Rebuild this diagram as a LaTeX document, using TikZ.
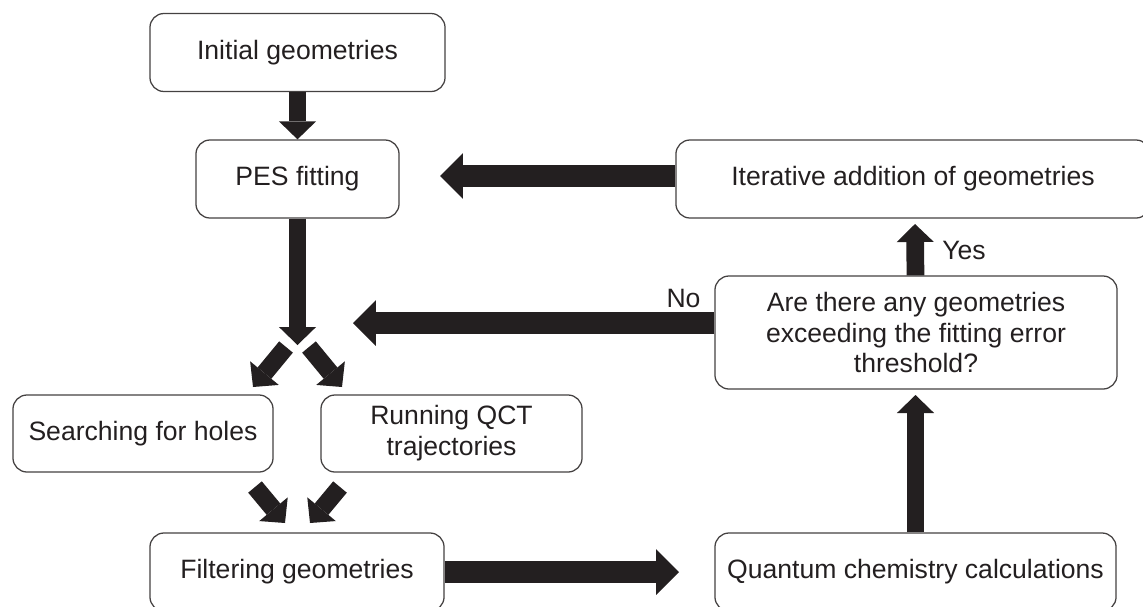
\documentclass[tikz,border=0pt]{standalone}
\usepackage{fontspec}
\setmainfont{Liberation Sans}
\usetikzlibrary{arrows.meta}
\definecolor{ink}{HTML}{231F20}
\begin{document}
\begin{tikzpicture}[x=0.025cm,y=-0.025cm,
  box/.style={draw=ink!85,line width=0.9pt,rounded corners=10pt,align=center,
    inner sep=0pt,minimum height=1.95cm,text=ink,font=\fontsize{18.9}{22}\selectfont},
  thinarrow/.style={draw=ink,line width=12.6pt,
    -{Triangle[length=12.8pt,width=26.4pt,line width=0pt]}},
  bigarrow/.style={draw=ink,line width=15.6pt,
    -{Triangle[length=16.3pt,width=32.6pt,line width=0pt]}},
  lbl/.style={text=ink,font=\fontsize{18.9}{22}\selectfont}]
\useasboundingbox (0,0) rectangle (1143,606);
\node [box,minimum width=7.375cm] (init) at (297.5,52.5) {Initial geometries};
\node [box,minimum width=5.075cm] (pes) at (297.5,179) {PES fitting};
\node [box,minimum width=11.85cm] (iter) at (913,179) {Iterative addition of geometries};
\node [box,minimum width=10.05cm,minimum height=2.825cm] (are) at (916,332.5)
  {Are there any geometries\\exceeding the fitting error\\threshold?};
\node [box,minimum width=6.5cm,minimum height=1.925cm] (search) at (143,433.5) {Searching for holes};
\node [box,minimum width=6.525cm,minimum height=1.925cm] (qct) at (451.5,433.5) {Running QCT\\trajectories};
\node [box,minimum width=7.35cm] (filt) at (297,572) {Filtering geometries};
\node [box,minimum width=10.025cm] (quant) at (915.5,572) {Quantum chemistry calculations};
\node [lbl] (yes) at (964,250) {Yes};
\node [lbl] (no) at (683.5,298) {No};
\coordinate (fork) at (297.5,345);
\coordinate (forkl) at (286,347);
\coordinate (forkr) at (309,347);
\coordinate (searchtip) at (253,387);
\coordinate (qcttip) at (342,387);
\coordinate (searchout) at (255,487);
\coordinate (qctout) at (340,487);
\coordinate (filtl) at (285,523);
\coordinate (filtr) at (310,523);
\coordinate (quanttip) at (679,572);
\coordinate (aretip) at (915.5,395);
\coordinate (itertip) at (915,224);
\coordinate (notip) at (353,323);
\coordinate (pestip) at (440,176);
\draw [thinarrow] (init) -- (pes);
\draw [thinarrow] (pes) -- (fork);
\draw [thinarrow] (forkl) -- (searchtip);
\draw [thinarrow] (forkr) -- (qcttip);
\draw [thinarrow] (searchout) -- (filtl);
\draw [thinarrow] (qctout) -- (filtr);
\draw [bigarrow] (filt) -- (quanttip);
\draw [thinarrow] (quant) -- (aretip);
\draw [thinarrow] (are) -- (itertip);
\draw [bigarrow] (are.west |- notip) -- (notip);
\draw [bigarrow] (iter.west |- pestip) -- (pestip);
\end{tikzpicture}
\end{document}
